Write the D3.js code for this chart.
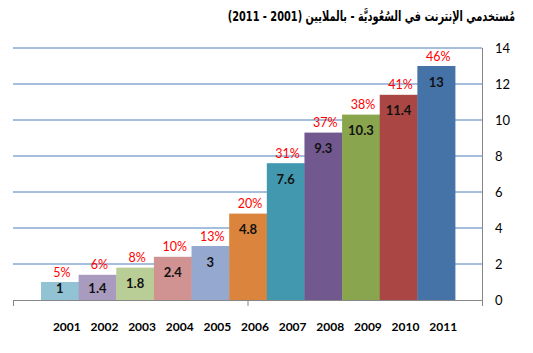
<!DOCTYPE html>
<html>
<head>
<meta charset="utf-8">
<script src="https://cdn.jsdelivr.net/npm/d3@7"></script>
<style>
  body { margin: 0; background: #fff; }
  svg { display: block; }
</style>
</head>
<body>
<script>
// Internet users in Saudi Arabia, millions
const years = ["2001", "2002", "2003", "2004", "2005", "2006", "2007", "2008", "2009", "2010", "2011"];
const users = [1, 1.4, 1.8, 2.4, 3, 4.8, 7.6, 9.3, 10.3, 11.4, 13];
const shares = ["5%", "6%", "8%", "10%", "13%", "20%", "31%", "37%", "38%", "41%", "46%"];
const barColors = ["#92c3d5", "#a99bbf", "#b9ce96", "#d19392", "#94a8d0", "#db843d",
                   "#4198af", "#71588f", "#89a54e", "#aa4643", "#4572a7"];
const yTicks = [0, 2, 4, 6, 8, 10, 12, 14];
const title = "مُستخدمي الإنترنت في السُعُوديَّة - بالملايين (2001 - 2011)";

const width = 533, height = 353;
const plot = {left: 13, right: 482, top: 48, bottom: 300};

const svg = d3.select("body").append("svg")
    .attr("width", width)
    .attr("height", height)
    .style("font-family", "Lato, 'Open Sans', sans-serif");

const x = d3.scaleBand()
    .domain(years)
    .range([41, 455])
    .padding(0);

const y = d3.scaleLinear()
    .domain([0, 14])
    .range([plot.bottom, plot.top]);

// gridlines
svg.append("g")
    .selectAll("line")
    .data(yTicks.filter(d => d > 0))
    .join("line")
    .attr("x1", plot.left)
    .attr("x2", plot.right)
    .attr("y1", d => y(d))
    .attr("y2", d => y(d))
    .attr("stroke", "#4a7ebb")
    .attr("stroke-width", 1);

// bars
svg.append("g")
    .selectAll("rect")
    .data(users)
    .join("rect")
    .attr("x", (d, i) => x(years[i]))
    .attr("y", d => y(d))
    .attr("width", x.bandwidth() + 0.4)
    .attr("height", d => y(0) - y(d))
    .attr("fill", (d, i) => barColors[i]);

// axes lines
svg.append("line")
    .attr("x1", plot.left).attr("x2", plot.right)
    .attr("y1", plot.bottom + 0.5).attr("y2", plot.bottom + 0.5)
    .attr("stroke", "#868686");
svg.append("line")
    .attr("x1", plot.right + 0.5).attr("x2", plot.right + 0.5)
    .attr("y1", plot.top).attr("y2", plot.bottom + 6)
    .attr("stroke", "#868686");
[plot.left + 0.5, x("2006") + x.bandwidth() / 2].forEach(function (tx) {
    svg.append("line")
        .attr("x1", tx).attr("x2", tx)
        .attr("y1", plot.bottom).attr("y2", plot.bottom + 6)
        .attr("stroke", "#868686");
});

// right axis labels
const yAxis = d3.axisRight(y).tickValues(yTicks).tickSize(0).tickPadding(13);
svg.append("g")
    .attr("transform", "translate(" + plot.right + ",0)")
    .call(yAxis)
    .call(g => g.select(".domain").remove())
    .selectAll("text")
    .style("font-size", "13px")
    .style("font-family", "Lato, 'Open Sans', sans-serif")
    .attr("fill", "#000");

// year labels
svg.append("g")
    .selectAll("text")
    .data(years)
    .join("text")
    .attr("x", d => x(d) + x.bandwidth() / 2 + 7)
    .attr("y", 326)
    .attr("text-anchor", "middle")
    .attr("dominant-baseline", "central")
    .style("font-size", "12px")
    .style("font-weight", "bold")
    .text(d => d);

// value labels inside bars
svg.append("g")
    .selectAll("text")
    .data(users)
    .join("text")
    .attr("x", (d, i) => x(years[i]) + x.bandwidth() / 2)
    .attr("y", d => Math.min(y(d) + 15.5, plot.bottom - 12.5))
    .attr("text-anchor", "middle")
    .attr("dominant-baseline", "central")
    .style("font-size", "13px")
    .style("font-weight", "bold")
    .attr("fill", "#111")
    .text(d => d);

// growth percentages above bars
svg.append("g")
    .selectAll("text")
    .data(shares)
    .join("text")
    .attr("x", (d, i) => x(years[i]) + x.bandwidth() / 2 + 2)
    .attr("y", (d, i) => y(users[i]) - 10)
    .attr("text-anchor", "middle")
    .attr("dominant-baseline", "central")
    .style("font-size", "12.5px")
    .attr("fill", "#ff0000")
    .text(d => d);

// title: RTL embedding, anchored at its right end, narrowed horizontally
svg.append("g")
    .attr("transform", "translate(515,16) scale(0.7,1)")
    .append("text")
    .attr("x", 0)
    .attr("y", 0)
    .attr("text-anchor", "end")
    .attr("dominant-baseline", "central")
    .style("font-family", "'DejaVu Sans', sans-serif")
    .style("font-size", "14px")
    .style("font-weight", "bold")
    .text("\u202B" + title + "\u202C");
</script>
</body>
</html>
